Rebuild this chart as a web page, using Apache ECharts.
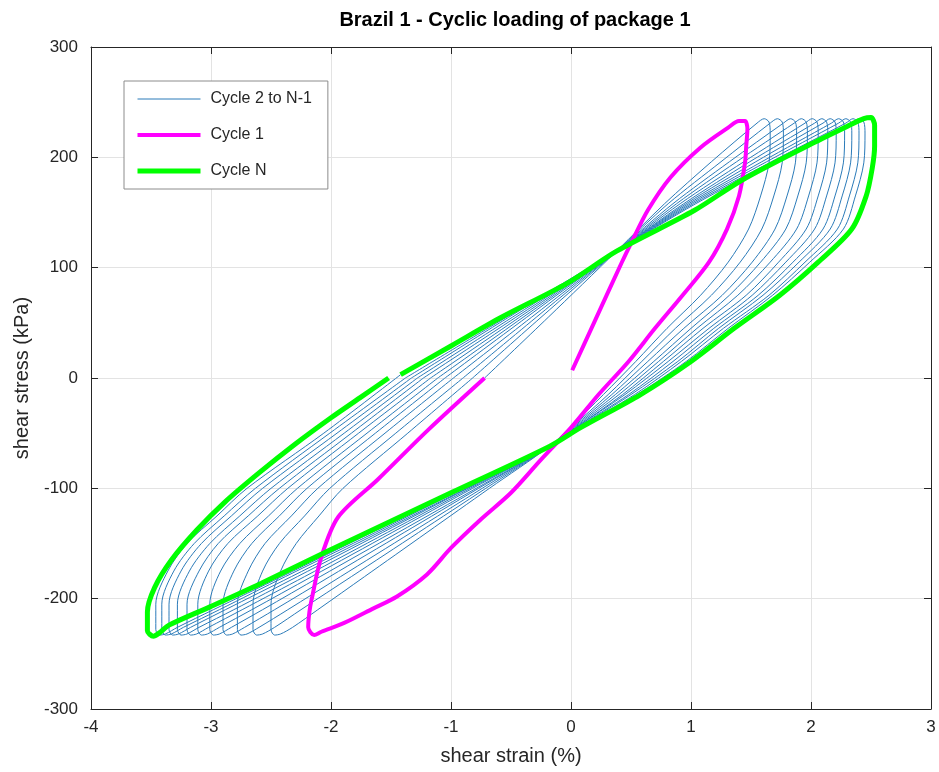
<!DOCTYPE html>
<html>
<head>
<meta charset="utf-8">
<script src="https://cdn.jsdelivr.net/npm/echarts@6/dist/echarts.min.js"></script>
<style>
html,body{margin:0;padding:0;background:#fff;}
#chart{width:939px;height:772px;}
</style>
</head>
<body>
<div id="chart"></div>
<script>
// ---- data (shear strain %, shear stress kPa) ----
const xTicks = [-4, -3, -2, -1, 0, 1, 2, 3];
const yTicks = [-300, -200, -100, 0, 100, 200, 300];

const cycle1 = [[0.01,7],[0.2,52],[0.42,104],[0.5,122],[0.64,152],[0.83,182],[1.08,209],[1.31,227],[1.40,233],[1.45,233],[1.47,226],[1.46,210],[1.45,195],[1.40,165],[1.30,135],[1.15,105],[0.93,75],[0.70,45],[0.48,15],[0.23,-15],[0.0,-45],[-0.25,-74],[-0.5,-104],[-0.75,-128],[-1.0,-154],[-1.2,-178],[-1.45,-198],[-1.65,-209],[-1.89,-222],[-2.08,-230],[-2.14,-233],[-2.19,-226],[-2.18,-212],[-2.16,-200],[-2.08,-162],[-1.94,-126],[-1.61,-92],[-1.19,-47],[-0.72,0]];

const cycle2 = [[-0.72,0],[-0.19,55],[0.38,115],[0.78,158],[1.17,196],[1.55,231],[1.61,235],[1.65,232],[1.66,222],[1.65,195],[1.58,165],[1.48,135],[1.31,105],[1.08,75],[0.80,45],[0.54,15],[0.27,-15],[-0.01,-45],[-0.18,-62],[-0.68,-100],[-1.20,-140],[-1.72,-180],[-2.11,-210],[-2.32,-226],[-2.42,-232],[-2.47,-233],[-2.50,-228],[-2.50,-205],[-2.42,-175],[-2.29,-150],[-2.10,-125],[-1.90,-100],[-1.36,-50],[-0.82,0]];
const cycle3 = [[-0.82,0],[-0.25,55],[0.38,115],[0.81,158],[1.25,196],[1.66,231],[1.72,235],[1.76,232],[1.77,222],[1.76,195],[1.69,165],[1.59,135],[1.41,105],[1.17,75],[0.87,45],[0.59,15],[0.31,-15],[0.0,-45],[-0.18,-62],[-0.71,-100],[-1.27,-140],[-1.83,-180],[-2.25,-210],[-2.47,-226],[-2.57,-232],[-2.62,-233],[-2.65,-228],[-2.65,-205],[-2.57,-175],[-2.43,-150],[-2.22,-125],[-2.01,-100],[-1.46,-50],[-0.90,0]];
const cycle4 = [[-0.90,0],[-0.29,55],[0.38,115],[0.85,158],[1.32,196],[1.77,231],[1.83,235],[1.87,232],[1.88,222],[1.87,195],[1.80,165],[1.70,135],[1.51,105],[1.26,75],[0.94,45],[0.64,15],[0.34,-15],[0.01,-45],[-0.18,-62],[-0.74,-100],[-1.33,-140],[-1.92,-180],[-2.36,-210],[-2.60,-226],[-2.70,-232],[-2.75,-233],[-2.78,-228],[-2.78,-205],[-2.69,-175],[-2.55,-150],[-2.33,-125],[-2.11,-100],[-1.55,-50],[-0.98,0]];
const cycle5 = [[-0.98,0],[-0.33,55],[0.38,115],[0.88,158],[1.38,196],[1.86,231],[1.92,235],[1.96,232],[1.97,222],[1.96,195],[1.89,165],[1.79,135],[1.58,105],[1.32,75],[1.00,45],[0.69,15],[0.37,-15],[0.02,-45],[-0.18,-62],[-0.77,-100],[-1.39,-140],[-2.01,-180],[-2.47,-210],[-2.72,-226],[-2.82,-232],[-2.87,-233],[-2.90,-228],[-2.90,-205],[-2.81,-175],[-2.66,-150],[-2.43,-125],[-2.20,-100],[-1.63,-50],[-1.05,0]];
const cycle6 = [[-1.05,0],[-0.37,55],[0.38,115],[0.91,158],[1.44,196],[1.95,231],[2.01,235],[2.05,232],[2.06,222],[2.05,195],[1.98,165],[1.88,135],[1.66,105],[1.39,75],[1.05,45],[0.73,15],[0.40,-15],[0.03,-45],[-0.18,-62],[-0.79,-100],[-1.44,-140],[-2.09,-180],[-2.57,-210],[-2.83,-226],[-2.93,-232],[-2.98,-233],[-3.01,-228],[-3.01,-205],[-2.92,-175],[-2.76,-150],[-2.52,-125],[-2.28,-100],[-1.70,-50],[-1.11,0]];
const cycle7 = [[-1.11,0],[-0.40,55],[0.38,115],[0.94,158],[1.49,196],[2.03,231],[2.09,235],[2.13,232],[2.14,222],[2.13,195],[2.06,165],[1.96,135],[1.73,105],[1.46,75],[1.10,45],[0.77,15],[0.43,-15],[0.04,-45],[-0.18,-62],[-0.82,-100],[-1.49,-140],[-2.16,-180],[-2.66,-210],[-2.93,-226],[-3.03,-232],[-3.08,-233],[-3.11,-228],[-3.11,-205],[-3.02,-175],[-2.86,-150],[-2.61,-125],[-2.36,-100],[-1.77,-50],[-1.17,0]];
const cycle8 = [[-1.17,0],[-0.43,55],[0.38,115],[0.96,158],[1.54,196],[2.10,231],[2.16,235],[2.20,232],[2.21,222],[2.20,195],[2.13,165],[2.03,135],[1.79,105],[1.51,75],[1.15,45],[0.81,15],[0.45,-15],[0.04,-45],[-0.18,-62],[-0.84,-100],[-1.53,-140],[-2.22,-180],[-2.74,-210],[-3.02,-226],[-3.12,-232],[-3.17,-233],[-3.20,-228],[-3.20,-205],[-3.10,-175],[-2.94,-150],[-2.69,-125],[-2.43,-100],[-1.83,-50],[-1.23,0]];
const cycle9 = [[-1.23,0],[-0.46,55],[0.38,115],[0.98,158],[1.59,196],[2.17,231],[2.23,235],[2.27,232],[2.28,222],[2.27,195],[2.20,165],[2.10,135],[1.85,105],[1.56,75],[1.19,45],[0.85,15],[0.48,-15],[0.05,-45],[-0.18,-62],[-0.86,-100],[-1.57,-140],[-2.28,-180],[-2.81,-210],[-3.10,-226],[-3.20,-232],[-3.25,-233],[-3.28,-228],[-3.28,-205],[-3.18,-175],[-3.01,-150],[-2.76,-125],[-2.50,-100],[-1.89,-50],[-1.28,0]];
const cycle10 = [[-1.28,0],[-0.49,55],[0.38,115],[1.00,158],[1.63,196],[2.23,231],[2.29,235],[2.33,232],[2.34,222],[2.33,195],[2.26,165],[2.16,135],[1.90,105],[1.60,75],[1.23,45],[0.89,15],[0.50,-15],[0.06,-45],[-0.18,-62],[-0.87,-100],[-1.60,-140],[-2.33,-180],[-2.88,-210],[-3.17,-226],[-3.27,-232],[-3.32,-233],[-3.35,-228],[-3.35,-205],[-3.25,-175],[-3.08,-150],[-2.83,-125],[-2.57,-100],[-1.95,-50],[-1.33,0]];
const cycle11 = [[-1.33,0],[-0.52,55],[0.38,115],[1.02,158],[1.67,196],[2.29,231],[2.35,235],[2.39,232],[2.40,222],[2.39,195],[2.32,165],[2.22,135],[1.95,105],[1.65,75],[1.27,45],[0.92,15],[0.53,-15],[0.07,-45],[-0.18,-62],[-0.89,-100],[-1.63,-140],[-2.38,-180],[-2.93,-210],[-3.23,-226],[-3.33,-232],[-3.38,-233],[-3.41,-228],[-3.41,-205],[-3.31,-175],[-3.14,-150],[-2.89,-125],[-2.63,-100],[-2.01,-50],[-1.38,0]];
const cycle12 = [[-1.38,0],[-0.54,55],[0.38,115],[1.04,158],[1.70,196],[2.34,231],[2.40,235],[2.44,232],[2.45,222],[2.44,195],[2.37,165],[2.27,135],[1.99,105],[1.68,75],[1.31,45],[0.96,15],[0.55,-15],[0.07,-45],[-0.18,-62],[-0.90,-100],[-1.66,-140],[-2.41,-180],[-2.98,-210],[-3.28,-226],[-3.38,-232],[-3.43,-233],[-3.46,-228],[-3.46,-205],[-3.36,-175],[-3.20,-150],[-2.95,-125],[-2.70,-100],[-2.06,-50],[-1.42,3]];

const cycleN = [[-1.42,3],[-1.0,29],[-0.58,55],[-0.03,86],[0.38,115],[1.03,152],[1.42,179],[2.0,212],[2.3,228],[2.44,235],[2.50,236],[2.53,229],[2.53,210],[2.51,190],[2.46,165],[2.34,135],[2.06,105],[1.74,75],[1.36,45],[1.00,15],[0.58,-15],[0.08,-45],[-0.18,-62],[-1.0,-104],[-2.03,-157],[-2.58,-186],[-3.0,-207],[-3.35,-224],[-3.43,-231],[-3.48,-234],[-3.53,-229],[-3.53,-212],[-3.47,-190],[-3.33,-165],[-3.12,-138],[-2.88,-112],[-2.60,-86],[-2.30,-60],[-2.00,-36],[-1.76,-18],[-1.52,0]];

const middleCycles = [cycle2, cycle3, cycle4, cycle5, cycle6, cycle7, cycle8, cycle9, cycle10, cycle11, cycle12];

const titleText = 'Brazil 1 - Cyclic loading of package 1';
const xName = 'shear strain (%)';
const yName = 'shear stress (kPa)';
const nameMid = 'Cycle 2 to N-1';
const name1 = 'Cycle 1';
const nameN = 'Cycle N';

// ---- chart ----
const FONT = '"Liberation Sans", Arial, Helvetica, sans-serif';
const AX = '#262626';
const chart = echarts.init(document.getElementById('chart'), null, {renderer: 'canvas'});

const series = [];
middleCycles.forEach(function (d) {
  series.push({
    name: nameMid, type: 'line', data: d, symbol: 'none', smooth: 0.3,
    lineStyle: {color: '#2b7bb9', width: 1}, itemStyle: {color: '#2b7bb9'}, z: 2
  });
});
series.push({
  name: name1, type: 'line', data: cycle1, symbol: 'none', smooth: 0.3,
  lineStyle: {color: '#ff00ff', width: 4}, itemStyle: {color: '#ff00ff'}, z: 3
});
series.push({
  name: nameN, type: 'line', data: cycleN, symbol: 'none', smooth: 0.3,
  lineStyle: {color: '#00ff00', width: 5}, itemStyle: {color: '#00ff00'}, z: 4
});

const xCommon = {type: 'value', min: xTicks[0], max: xTicks[xTicks.length - 1], interval: 1};
const yCommon = {type: 'value', min: yTicks[0], max: yTicks[yTicks.length - 1], interval: 100};

chart.setOption({
  animation: false,
  backgroundColor: '#fff',
  title: {
    text: titleText, left: 510, top: 5, textAlign: 'center',
    textStyle: {fontFamily: FONT, fontSize: 20, fontWeight: 'bold', color: '#000'}
  },
  legend: {
    data: [nameMid, name1, nameN],
    orient: 'vertical', left: 124, top: 81,
    padding: [10, 16, 10, 11], itemGap: 20, itemWidth: 63, itemHeight: 2,
    backgroundColor: '#fff', borderColor: '#8c8c8c', borderWidth: 1,
    itemStyle: {opacity: 0},
    lineStyle: {width: 'inherit'},
    textStyle: {fontFamily: FONT, fontSize: 16, color: AX, padding: [0, 0, 0, 5]}
  },
  grid: {left: 91, right: 8, top: 47, bottom: 63, containLabel: false},
  xAxis: [
    Object.assign({}, xCommon, {
      position: 'bottom', name: xName, nameLocation: 'middle', nameGap: 37,
      nameTextStyle: {fontFamily: FONT, fontSize: 20, color: AX},
      axisLine: {show: true, onZero: false, lineStyle: {color: AX, width: 1}},
      axisTick: {show: true, inside: true, length: 7, lineStyle: {color: AX}},
      axisLabel: {fontFamily: FONT, fontSize: 17, color: AX, margin: 10},
      splitLine: {show: true, lineStyle: {color: '#e3e3e3', width: 1}}
    }),
    Object.assign({}, xCommon, {
      position: 'top',
      axisLine: {show: true, onZero: false, lineStyle: {color: AX, width: 1}},
      axisTick: {show: true, inside: true, length: 7, lineStyle: {color: AX}},
      axisLabel: {show: false}, splitLine: {show: false}
    })
  ],
  yAxis: [
    Object.assign({}, yCommon, {
      position: 'left', name: yName, nameLocation: 'middle', nameGap: 59, nameRotate: 90,
      nameTextStyle: {fontFamily: FONT, fontSize: 20, color: AX},
      axisLine: {show: true, onZero: false, lineStyle: {color: AX, width: 1}},
      axisTick: {show: true, inside: true, length: 7, lineStyle: {color: AX}},
      axisLabel: {fontFamily: FONT, fontSize: 17, color: AX, margin: 13},
      splitLine: {show: true, lineStyle: {color: '#e3e3e3', width: 1}}
    }),
    Object.assign({}, yCommon, {
      position: 'right',
      axisLine: {show: true, onZero: false, lineStyle: {color: AX, width: 1}},
      axisTick: {show: true, inside: true, length: 7, lineStyle: {color: AX}},
      axisLabel: {show: false}, splitLine: {show: false}
    })
  ],
  series: series
});
</script>
</body>
</html>
